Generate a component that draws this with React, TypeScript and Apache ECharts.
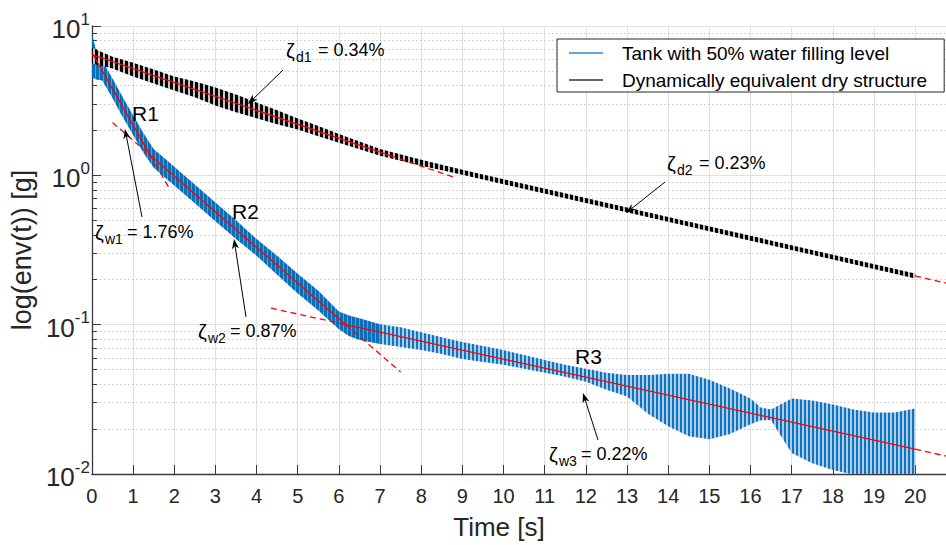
import React, { useEffect, useRef } from "react";
import * as echarts from "echarts";

// ---------- data ----------
// Envelope of the tank response (50% water filling), time in s, values in g
const blueTime = [0, 0.1, 0.25, 0.5, 0.75, 1, 1.25, 1.5, 1.75, 2, 2.5, 3, 3.5, 4, 4.5, 5, 5.5, 6, 6.25, 6.5, 7, 7.5, 8, 8.5, 9, 9.5, 10, 10.5, 11, 11.5, 12, 12.5, 13, 13.5, 14, 14.5, 15, 15.5, 16, 16.25, 16.5, 17, 17.5, 18, 18.5, 19, 19.5, 20];
const blueUpper = [8.85, 6.93, 5.86, 4.45, 3.33, 2.53, 1.92, 1.5, 1.31, 1.14, 0.868, 0.659, 0.5, 0.374, 0.289, 0.219, 0.169, 0.1227, 0.1154, 0.1103, 0.1006, 0.0961, 0.089, 0.0825, 0.0764, 0.0719, 0.0676, 0.0626, 0.058, 0.0538, 0.0506, 0.0476, 0.0461, 0.0461, 0.0469, 0.0469, 0.0428, 0.0373, 0.032, 0.0279, 0.027, 0.032, 0.031, 0.0292, 0.027, 0.0258, 0.0258, 0.0275];
const blueLower = [4.52, 4.38, 4.32, 3.28, 2.45, 1.86, 1.415, 1.125, 0.98, 0.854, 0.649, 0.493, 0.374, 0.289, 0.216, 0.1616, 0.1246, 0.0932, 0.0838, 0.0788, 0.0741, 0.0708, 0.0676, 0.0636, 0.0589, 0.0563, 0.0538, 0.0506, 0.0476, 0.0448, 0.0415, 0.0367, 0.033, 0.0254, 0.0209, 0.0179, 0.0171, 0.0185, 0.0215, 0.0229, 0.0229, 0.0138, 0.0118, 0.01065, 0.0099, 0.0099, 0.0099, 0.0099];

// Envelope of the dynamically equivalent dry structure
const dryTime = [0, 0.5, 1, 1.5, 2, 2.5, 3, 3.5, 4, 4.5, 5, 5.5, 6, 7, 8, 9, 10, 12, 14, 16, 18, 20];
const dryUpper = [7.14, 6.23, 5.68, 5.11, 4.59, 4.25, 3.88, 3.48, 3.08, 2.73, 2.4, 2.14, 1.89, 1.5, 1.27, 1.09, 0.941, 0.704, 0.526, 0.394, 0.294, 0.22];
const dryLower = [5.6, 5.19, 4.59, 4.12, 3.7, 3.33, 2.94, 2.65, 2.41, 2.2, 2.03, 1.83, 1.65, 1.35, 1.16, 1.01, 0.872, 0.652, 0.488, 0.365, 0.273, 0.204];

// Exponential-decay fits (straight lines on the log axis): [time, value] end points
const fitW1Solid = [[0, 6.62], [1.42, 1.36]];
const fitW1Dash = [[1.42, 1.36], [1.9, 0.8]];
const fitW2DashBack = [[0.5, 2.26], [1.42, 1.36]];
const fitW2Solid = [[1.42, 1.36], [6.17, 0.1]];
const fitW2DashFwd = [[6.17, 0.1], [7.5, 0.0482]];
const fitW3DashBack = [[4.35, 0.129], [6.17, 0.1]];
const fitW3Solid = [[6.17, 0.1], [20, 0.01466]];
const fitW3DashFwd = [[20, 0.01466], [20.75, 0.0132]];
const fitD1Solid = [[0, 6.43], [7.25, 1.355]];
const fitD1Dash = [[7.25, 1.355], [8.8, 0.97]];
const fitD2Solid = [[7.25, 1.355], [20, 0.212]];
const fitD2DashFwd = [[20, 0.212], [20.75, 0.19]];

const seriesNames = ["Tank with 50% water filling level", "Dynamically equivalent dry structure"];
const decadeTicks = [0.01, 0.1, 1, 10];
const minorMultipliers = [2, 3, 4, 5, 6, 7, 8, 9];
const xTickLabels = ["0", "1", "2", "3", "4", "5", "6", "7", "8", "9", "10", "11", "12", "13", "14", "15", "16", "17", "18", "19", "20"];

const FONT = '"Liberation Sans", Arial, Helvetica, sans-serif';

function stripe(dark: string, light: string, darkW: number, period: number) {
  const cv = document.createElement("canvas");
  cv.width = period;
  cv.height = 2;
  const ctx = cv.getContext("2d")!;
  ctx.fillStyle = light;
  ctx.fillRect(0, 0, period, 2);
  ctx.fillStyle = dark;
  ctx.fillRect(0, 0, darkW, 2);
  return { image: cv, repeat: "repeat", imageWidth: period, imageHeight: 2 } as any;
}

function band(t: number[], hi: number[], lo: number[], from: number, to: number, fill: any, z: number) {
  const rows: number[][] = [];
  for (let i = from; i <= to; i++) rows.push([t[i], lo[i], hi[i]]);
  return {
    type: "custom",
    silent: true,
    z,
    clip: true,
    coordinateSystem: "cartesian2d",
    encode: { x: 0, y: [1, 2] },
    data: rows,
    renderItem: (params: any, api: any) => {
      if (params.dataIndex !== 0) return null;
      const top = rows.map((r) => api.coord([r[0], r[2]]));
      const bottom = rows.map((r) => api.coord([r[0], r[1]])).reverse();
      return { type: "polygon", shape: { points: top.concat(bottom) }, style: { fill } };
    },
  };
}

function fit(seg: number[][], dashed: boolean, z: number) {
  return {
    type: "line",
    data: seg,
    symbol: "none",
    silent: true,
    z,
    clip: true,
    lineStyle: { color: "#ff0000", width: 1.3, type: dashed ? [6, 4] : "solid" },
  };
}

function arrow(x1: number, y1: number, x2: number, y2: number) {
  const dx = x2 - x1, dy = y2 - y1;
  const len = Math.hypot(dx, dy);
  const ux = dx / len, uy = dy / len;
  const L = 10, W = 3.6;
  const bx = x2 - ux * L, by = y2 - uy * L;
  return [
    { type: "line", z: 20, shape: { x1, y1, x2: bx + ux * 3, y2: by + uy * 3 }, style: { stroke: "#000", lineWidth: 1 } },
    {
      type: "polygon",
      z: 20,
      shape: { points: [[x2, y2], [bx - uy * W, by + ux * W], [bx + ux * 3, by + uy * 3], [bx + uy * W, by - ux * W]] },
      style: { fill: "#000" },
    },
  ];
}

function txt(x: number, cy: number, text: string, size: number) {
  return {
    type: "text",
    z: 20,
    x,
    y: cy,
    style: { text, fontSize: size, fontFamily: FONT, fill: "#000", verticalAlign: "middle", textVerticalAlign: "middle", align: "left" },
  };
}

function zetaLabel(x: number, cy: number, sub: string, rest: string) {
  return [txt(x, cy + 1, "ζ", 20), txt(x + 10, cy + 7, sub, 14), txt(x + (sub.length * 8 + 16), cy, rest, 18)];
}

export default function App() {
  const ref = useRef<HTMLDivElement>(null);
  useEffect(() => {
    document.body.style.margin = "0";
    const chart = echarts.init(ref.current!, null, { renderer: "svg" });

    const minorValues: number[] = [];
    for (let d = 0; d < decadeTicks.length - 1; d++) minorMultipliers.forEach((m) => minorValues.push(+(m * decadeTicks[d]).toPrecision(3)));

    const blueDense = stripe("#0a6fb6", "#5d9fd5", 3, 4);
    const blueHatch = stripe("#1273bd", "#a9cdea", 2, 4);
    const dryFill = stripe("#000000", "#c4c4c4", 3, 5);

    const option: any = {
      animation: false,
      backgroundColor: "#ffffff",
      textStyle: { fontFamily: FONT },
      grid: { left: 88, top: 26, right: 0, bottom: 67, containLabel: false },
      legend: {
        data: seriesNames,
        orient: "vertical",
        left: 557,
        top: 39,
        padding: [3, 17, 1, 12],
        itemGap: 5,
        itemWidth: 34,
        itemHeight: 1.4,
        icon: "rect",
        borderColor: "#262626",
        borderWidth: 1,
        borderRadius: 0,
        backgroundColor: "#ffffff",
        selectedMode: false,
        textStyle: { fontSize: 19, color: "#000", fontFamily: FONT, lineHeight: 22, padding: [0, 0, 0, 14] },
      },
      xAxis: {
        type: "value",
        min: 0,
        max: 20.75,
        interval: 1,
        name: "Time [s]",
        nameLocation: "middle",
        nameGap: 40,
        nameTextStyle: { fontSize: 26, color: "#262626", fontFamily: FONT, padding: [0, 40, 0, 0] },
        axisLine: { show: true, onZero: false, lineStyle: { color: "#3a3a3a", width: 1.3 } },
        axisTick: { show: true, inside: true, length: 9, lineStyle: { color: "#3a3a3a", width: 1 } },
        axisLabel: {
          fontSize: 20,
          color: "#262626",
          margin: 12,
          fontFamily: FONT,
          showMaxLabel: false,
          formatter: (v: number) => (Number.isInteger(v) && v < xTickLabels.length ? xTickLabels[v] : ""),
        },
        splitLine: { show: true, lineStyle: { color: "#e0e0e0", width: 1 } },
      },
      yAxis: {
        type: "log",
        logBase: 10,
        min: 0.01,
        max: 10,
        name: "log(env(t)) [g]",
        nameLocation: "middle",
        nameGap: 52,
        nameRotate: 90,
        nameTextStyle: { fontSize: 27, color: "#262626", fontFamily: FONT },
        axisLine: { show: true, lineStyle: { color: "#3a3a3a", width: 1.3 } },
        axisTick: { show: true, inside: true, length: 9, lineStyle: { color: "#3a3a3a", width: 1 } },
        axisLabel: {
          margin: 2,
          color: "#262626",
          fontFamily: FONT,
          formatter: (v: number) => `{b|10}{e|${Math.round(Math.log10(v))}}`,
          rich: {
            b: { fontSize: 26, color: "#262626", fontFamily: FONT, padding: [6, 0, 0, 0] },
            e: { fontSize: 17, color: "#262626", fontFamily: FONT, padding: [0, 0, 14, 0] },
          },
        },
        splitLine: { show: true, lineStyle: { color: "#e0e0e0", width: 1 } },
        minorTick: { show: false },
      },
      series: [
        // minor grid lines (dotted) and minor ticks
        {
          type: "line",
          data: [[0, 1]],
          symbol: "none",
          silent: true,
          z: 1,
          lineStyle: { opacity: 0 },
          markLine: {
            silent: true,
            symbol: "none",
            z: 1,
            label: { show: false },
            lineStyle: { type: [1.5, 2.5], color: "#c8c8c8", width: 1 },
            data: minorValues.map((v) => ({ yAxis: v })),
          },
        },
        {
          type: "line",
          data: [[0, 1]],
          symbol: "none",
          silent: true,
          z: 2,
          lineStyle: { opacity: 0 },
          markLine: {
            silent: true,
            symbol: "none",
            z: 2,
            label: { show: false },
            lineStyle: { type: "solid", color: "#3a3a3a", width: 1 },
            data: minorValues.map((v) => [{ coord: [0, v] }, { coord: [0.12, v] }]),
          },
        },
        // legend entries
        { type: "line", name: seriesNames[0], data: [], symbol: "none", lineStyle: { color: "#2a8ad2", width: 1.2 }, itemStyle: { color: "#2a8ad2" } },
        { type: "line", name: seriesNames[1], data: [], symbol: "none", lineStyle: { color: "#333333", width: 1.2 }, itemStyle: { color: "#333333" } },
        // envelopes
        band(blueTime, blueUpper, blueLower, 0, 20, blueDense, 3),
        band(blueTime, blueUpper, blueLower, 20, blueTime.length - 1, blueHatch, 3),
        fit(fitD2Solid, false, 4),
        band(dryTime, dryUpper, dryLower, 0, dryTime.length - 1, dryFill, 5),
        fit(fitD2DashFwd, true, 6),
        fit(fitD1Solid, false, 6),
        fit(fitD1Dash, true, 6),
        fit(fitW1Solid, false, 6),
        fit(fitW1Dash, true, 6),
        fit(fitW2DashBack, true, 6),
        fit(fitW2Solid, false, 6),
        fit(fitW2DashFwd, true, 6),
        fit(fitW3DashBack, true, 6),
        fit(fitW3Solid, false, 6),
        fit(fitW3DashFwd, true, 6),
      ],
      graphic: [
        ...zetaLabel(286, 50, "d1", "= 0.34%"),
        ...arrow(283, 70, 248, 104),
        ...zetaLabel(667, 163, "d2", "= 0.23%"),
        ...arrow(665, 182, 626, 213),
        txt(132, 113, "R1", 21),
        ...zetaLabel(95, 232, "w1", "= 1.76%"),
        ...arrow(142, 217, 125, 129),
        txt(232, 211, "R2", 21),
        ...zetaLabel(198, 331, "w2", "= 0.87%"),
        ...arrow(246, 317, 234, 239),
        txt(575, 356, "R3", 21),
        ...zetaLabel(549, 454, "w3", "= 0.22%"),
        ...arrow(598, 440, 583, 393),
      ],
    };
    chart.setOption(option);
    return () => chart.dispose();
  }, []);
  return <div ref={ref} style={{ width: 946, height: 545 }} />;
}
